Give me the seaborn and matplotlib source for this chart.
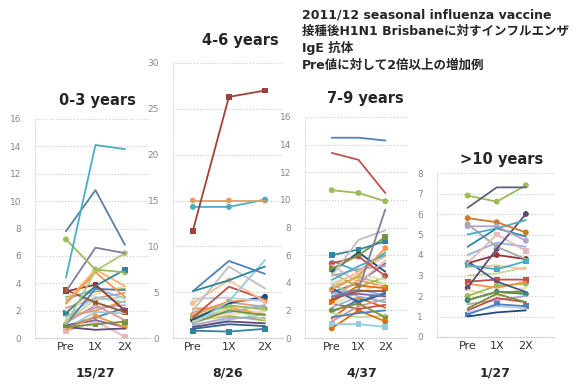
import pandas as pd
import matplotlib.pyplot as plt
import seaborn as sns

# Datos: valores Pre, 1X, 2X por sujeto en cada grupo de edad
visitas = ["Pre", "1X", "2X"]

g_0_3 = [
    [4.4, 14.1, 13.8], [7.8, 10.8, 6.8], [7.2, 5.0, 4.8], [3.4, 6.6, 6.2],
    [1.0, 4.9, 6.2], [1.8, 3.8, 5.0], [2.5, 4.8, 3.0], [2.6, 5.0, 3.8],
    [3.4, 3.9, 2.0], [3.5, 2.6, 1.9], [1.0, 3.6, 3.5], [1.1, 2.4, 1.3],
    [1.5, 3.0, 2.6], [0.8, 1.0, 1.2], [0.6, 1.6, 0.8], [0.8, 0.6, 0.7],
    [0.5, 1.2, 0.1], [0.9, 1.3, 0.8], [1.2, 2.8, 3.0], [2.0, 3.2, 3.8],
    [2.8, 3.6, 2.9], [1.3, 2.2, 2.4], [2.2, 2.9, 3.3], [0.7, 1.9, 1.8],
    [1.6, 2.0, 2.7], [3.0, 3.4, 3.6], [0.9, 1.5, 2.2],
]

g_4_6 = [
    [11.7, 26.3, 27.0], [15.0, 15.0, 15.0], [14.3, 14.3, 15.1], [5.1, 8.4, 7.0],
    [5.1, 6.3, 7.8], [3.0, 7.8, 5.4], [1.5, 4.0, 8.5], [3.8, 6.3, 4.0],
    [2.2, 5.6, 4.2], [4.3, 4.4, 4.0], [2.5, 4.0, 4.2], [2.0, 3.8, 4.5],
    [2.3, 3.5, 3.2], [1.6, 3.0, 2.5], [2.0, 3.2, 2.0], [1.2, 1.8, 1.6],
    [0.8, 0.7, 1.0], [1.0, 1.5, 1.3], [2.6, 3.6, 3.0], [1.8, 2.6, 2.9],
    [2.2, 2.8, 3.6], [1.4, 2.2, 2.2], [2.8, 3.9, 3.4], [1.1, 2.0, 2.6],
    [3.2, 3.3, 2.6], [1.9, 2.4, 1.9],
]

g_7_9 = [
    [14.5, 14.5, 14.3], [13.4, 12.9, 10.5], [10.7, 10.5, 9.9], [3.0, 3.5, 9.3],
    [4.5, 7.1, 7.8], [6.0, 6.4, 7.0], [5.0, 6.0, 7.3], [5.4, 5.9, 4.5],
    [3.5, 4.5, 6.5], [4.2, 5.2, 6.0], [5.3, 4.0, 5.6], [4.8, 6.2, 4.8],
    [3.8, 4.8, 5.9], [3.0, 3.2, 3.0], [2.8, 3.4, 3.4], [3.6, 2.6, 3.2],
    [4.0, 4.6, 4.2], [2.6, 3.8, 3.6], [2.2, 3.0, 2.6], [2.0, 2.5, 1.5],
    [1.5, 1.8, 2.0], [1.0, 1.0, 0.8], [0.7, 2.0, 1.2], [1.8, 1.5, 1.6],
    [2.4, 3.3, 4.0], [3.2, 3.5, 3.1], [4.5, 5.0, 5.2], [1.2, 2.3, 2.8],
    [3.9, 3.0, 2.6], [2.9, 4.2, 3.7], [4.7, 3.7, 4.4], [1.9, 2.7, 3.3],
    [3.3, 4.0, 5.4], [2.5, 2.1, 2.4], [5.6, 4.8, 6.2], [1.4, 2.9, 2.2],
    [3.7, 4.4, 3.9],
]

g_10 = [
    [6.3, 7.3, 7.3], [6.9, 6.6, 7.4], [5.8, 5.6, 5.1], [5.0, 5.3, 5.7],
    [5.4, 5.4, 4.7], [4.4, 5.3, 4.9], [2.4, 4.3, 6.0], [3.6, 5.0, 4.2],
    [5.5, 4.4, 3.8], [3.6, 4.0, 3.8], [3.5, 3.3, 3.7], [3.4, 3.5, 3.3],
    [3.7, 2.7, 2.2], [2.7, 2.8, 2.8], [2.6, 2.4, 2.7], [2.0, 2.5, 2.6],
    [1.8, 2.2, 2.2], [1.8, 2.2, 2.1], [1.4, 2.1, 1.7], [1.3, 1.9, 1.7],
    [1.1, 1.6, 1.5], [1.0, 1.2, 1.3], [1.2, 1.5, 1.4], [3.0, 3.1, 3.4],
    [2.3, 2.0, 2.4], [4.0, 4.6, 4.4], [1.6, 1.8, 2.0],
]

# colores de las primeras series de cada panel (las que destacan)
col_0_3 = ['#4BACC6', '#5A7FA8', '#9BBB59', '#7F7F9F', '#AFC97A', '#31859C',
           '#F79646', '#FAB165', '#953735', '#A0522D', '#4F81BD', '#D99694',
           '#93CDDD', '#77933C', '#F79646', '#604A7B', '#E6B9B8', '#8064A2']
col_4_6 = ['#A0413A', '#E0A060', '#4BACC6', '#4F81BD', '#31859C', '#BFBFBF',
           '#93CDDD', '#FAC090', '#C0504D', '#B9CDE5', '#F79646', '#1F497D',
           '#9BBB59', '#77933C', '#C3D69B', '#604A7B', '#31859C', '#376092']
col_7_9 = ['#4F81BD', '#C0504D', '#9BBB59', '#7F7F9F', '#BFBFBF', '#31859C',
           '#77933C', '#C0504D', '#F79646', '#4BACC6', '#E6B9B8', '#1F497D',
           '#FAC090', '#8064A2', '#A0522D', '#376092', '#D7E4BD', '#E46C0A',
           '#95B3D7', '#77933C', '#4F81BD', '#93CDDD', '#E46C0A']
col_10 = ['#60607F', '#9BBB59', '#D0782A', '#4BACC6', '#B3A2C7', '#31859C',
          '#604A7B', '#E6B9B8', '#A6A6A6', '#953735', '#4BACC6', '#FAC090',
          '#376092', '#C0504D', '#F79646', '#9BBB59', '#77933C', '#31859C',
          '#77933C', '#C0504D', '#4F81BD', '#1F497D', '#B9CDE5']
col_resto = ['#C3D69B', '#FCD5B5', '#8EB4E3', '#B3A2C7', '#D99694', '#93CDDD',
             '#F79646', '#9BBB59', '#4F81BD', '#8064A2', '#C0504D', '#4BACC6',
             '#E46C0A', '#AFC97A']

# series con marcador: indice -> tipo
marc_0_3 = {2: 'o', 5: 's', 8: 's', 9: 's', 16: 's', 14: 'o', 13: 's', 4: 'o'}
marc_4_6 = {0: 's', 1: 'o', 2: 'o', 11: 'o', 12: 'o', 16: 's', 7: 'o', 10: 'o'}
marc_7_9 = {2: 'o', 5: 's', 7: 'o', 6: 's', 21: 's', 22: 'o', 8: 'o', 17: 's', 19: 'o'}
marc_10 = {1: 'o', 2: 'o', 7: 's', 8: 'o', 9: 'o', 10: 's', 13: 's', 15: 'o',
           6: 'o', 20: 's', 4: 'o', 17: 'o'}

paneles = [
    # datos, colores, marcadores, ymax, paso, px (izq, der, arriba, abajo), xlim, titulo, titulo xy, conteo, conteo x
    (g_0_3, col_0_3, marc_0_3, 16, 2, (35, 150, 119, 338), (-1.05, 2.85), "0-3 years", (97, 100), "15/27", 95),
    (g_4_6, col_4_6, marc_4_6, 30, 5, (173, 283, 63, 338), (-0.55, 2.5), "4-6 years", (240, 41), "8/26", 228),
    (g_7_9, col_7_9, marc_7_9, 16, 2, (305, 408, 117, 338), (-1.0, 2.85), "7-9 years", (365, 98), "4/37", 362),
    (g_10, col_10, marc_10, 8, 1, (437, 555, 173, 337), (-1.05, 3.0), ">10 years", (502, 160), "1/27", 495),
]

W, H = 588, 386
fig = plt.figure(figsize=(W / 100, H / 100), dpi=100)
sns.set_style("white")
plt.rcParams['font.family'] = ['DejaVu Sans', 'Noto Sans CJK JP']

for datos, cols, marcas, ymax, paso, (x0, x1, y0, y1), xlim, titulo, (tx, ty), conteo, cx in paneles:
    ax = fig.add_axes([x0 / W, 1 - y1 / H, (x1 - x0) / W, (y1 - y0) / H])
    filas = []
    for i, serie in enumerate(datos):
        for j, v in enumerate(serie):
            filas.append({"id": i, "pos": j, "valor": v})
    df = pd.DataFrame(filas)
    todos = cols + col_resto * 3
    pal = {i: todos[i] for i in range(len(datos))}
    # dibujar en orden inverso para que las primeras series queden encima
    df_inv = df.iloc[::-1]
    sns.lineplot(data=df_inv, x="pos", y="valor", hue="id", palette=pal,
                 hue_order=list(range(len(datos)))[::-1],
                 linewidth=1.3, legend=False, ax=ax)
    for tipo in ['o', 's']:
        ids = [i for i, m in marcas.items() if m == tipo]
        dm = df[df["id"].isin(ids)]
        sns.scatterplot(data=dm, x="pos", y="valor", hue="id",
                        palette={i: pal[i] for i in ids},
                        s=18, marker=tipo, edgecolor="none", legend=False, ax=ax)
    ax.set_xlim(*xlim)
    ax.set_ylim(0, ymax)
    ax.set_yticks(range(0, ymax + 1, paso))
    ax.set_xticks([0, 1, 2])
    ax.set_xticklabels(visitas, fontsize=8, color='#333333')
    ax.tick_params(axis='y', labelsize=6.5, labelcolor='#888888', length=0, pad=10)
    ax.tick_params(axis='x', length=0, pad=3)
    ax.grid(axis='y', color='#c8c8c8', linestyle=':', linewidth=0.8)
    for s in ['top', 'right']:
        ax.spines[s].set_visible(False)
    ax.spines['left'].set_color('#dddddd')
    ax.spines['left'].set_linestyle(':')
    ax.spines['bottom'].set_color('#cccccc')
    ax.spines['bottom'].set_linestyle(':')
    ax.set_xlabel("")
    ax.set_ylabel("")
    fig.text(tx / W, 1 - ty / H, titulo, fontsize=10.5, fontweight='bold',
             ha='center', va='center')
    fig.text(cx / W, 1 - 373 / H, conteo, fontsize=9, fontweight='bold',
             ha='center', va='center')

encabezado = ["2011/12 seasonal influenza vaccine",
              "接種後H1N1 Brisbaneに対すインフルエンザ",
              "IgE 抗体",
              "Pre値に対して2倍以上の増加例"]
for k, linea in enumerate(encabezado):
    fig.text(302 / W, 1 - (15 + 16.7 * k) / H, linea, fontsize=9, fontweight='bold',
             ha='left', va='center')

fig.savefig("out.png", dpi=100)
